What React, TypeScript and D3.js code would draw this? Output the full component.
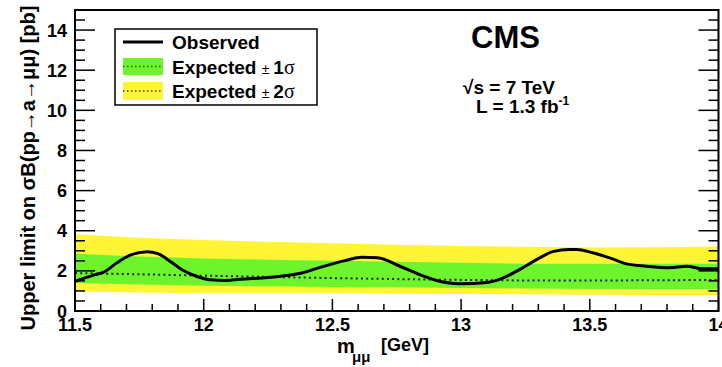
import React from 'react';
import * as d3 from 'd3';

// Observed limit (pb) vs mass (GeV)
const obsMass = [11.5, 11.578, 11.609, 11.663, 11.714, 11.78, 11.822, 11.869, 11.919, 11.974, 12.024, 12.09, 12.14, 12.249, 12.381, 12.459, 12.548, 12.614, 12.676, 12.762, 12.839, 12.905, 12.995, 13.1, 13.162, 13.227, 13.293, 13.356, 13.422, 13.449, 13.511, 13.577, 13.643, 13.72, 13.81, 13.876, 13.938, 14.0];
const observed = [1.47, 1.81, 1.92, 2.4, 2.78, 2.95, 2.86, 2.48, 2.03, 1.72, 1.56, 1.52, 1.58, 1.67, 1.89, 2.2, 2.51, 2.68, 2.65, 2.23, 1.81, 1.52, 1.36, 1.42, 1.64, 2.06, 2.56, 2.96, 3.07, 3.07, 2.9, 2.65, 2.35, 2.23, 2.15, 2.23, 2.1, 2.1];

// Expected limit and bands
const bandMass = [11.5, 11.75, 12.0, 12.25, 12.5, 12.75, 13.0, 13.25, 13.5, 13.75, 14.0];
const exp2Up = [3.82, 3.65, 3.54, 3.45, 3.38, 3.3, 3.24, 3.2, 3.16, 3.18, 3.22];
const exp1Up = [2.85, 2.72, 2.62, 2.56, 2.5, 2.45, 2.4, 2.36, 2.35, 2.35, 2.35];
const expected = [1.89, 1.83, 1.76, 1.7, 1.64, 1.59, 1.55, 1.52, 1.52, 1.53, 1.55];
const exp1Dn = [1.39, 1.32, 1.26, 1.23, 1.2, 1.18, 1.15, 1.12, 1.1, 1.1, 1.1];
const exp2Dn = [0.97, 0.92, 0.89, 0.89, 0.88, 0.86, 0.85, 0.83, 0.81, 0.8, 0.8];

const xTickLabels = ['11.5', '12', '12.5', '13', '13.5', '14'];
const yTickLabels = ['0', '2', '4', '6', '8', '10', '12', '14'];

const W = 722;
const H = 367;
const L = 75, R = 718.5, T = 10, B = 311;
const FONT = '"Liberation Sans", Arial, Helvetica, sans-serif';
const GREEN = '#6ef42c';
const YELLOW = '#fff536';

export default function App() {
  const x = d3.scaleLinear().domain([11.5, 14]).range([L, R]);
  const y = d3.scaleLinear().domain([0, 15]).range([B, T]);

  const band = (lo: number[], hi: number[]) =>
    d3.area<number>()
      .x((_, i) => x(bandMass[i]))
      .y0((_, i) => y(lo[i]))
      .y1((_, i) => y(hi[i]))(bandMass) as string;

  const expLine = d3.line<number>()
    .x((_, i) => x(bandMass[i]))
    .y((d) => y(d))(expected) as string;

  const obsLine = d3.line<number>()
    .x((_, i) => x(obsMass[i]))
    .y((d) => y(d))
    .curve(d3.curveMonotoneX)(observed) as string;

  const xMinor = d3.range(0, 26).map((i) => 11.5 + i * 0.1);
  const yMinor = d3.range(0, 31).map((i) => i * 0.5);

  return (
    <svg width={W} height={H} style={{ position: 'absolute', left: 0, top: 0 }} fontFamily={FONT}>
      <rect x={0} y={0} width={W} height={H} fill="white" />
      <path d={band(exp2Dn, exp2Up)} fill={YELLOW} />
      <path d={band(exp1Dn, exp1Up)} fill={GREEN} />
      <path d={expLine} fill="none" stroke="#222" strokeWidth={2} strokeDasharray="2,3.2" />
      <path d={obsLine} fill="none" stroke="black" strokeWidth={3} strokeLinejoin="round" />

      {/* frame */}
      <rect x={L} y={T} width={R - L} height={B - T} fill="none" stroke="black" strokeWidth={2} />

      {/* x ticks */}
      {xMinor.map((v, i) => {
        const major = i % 5 === 0;
        return <line key={'xt' + i} x1={x(v)} x2={x(v)} y1={B} y2={B - (major ? 12 : 7)} stroke="black" strokeWidth={1.5} />;
      })}
      {xTickLabels.map((t) => (
        <text key={'xl' + t} x={x(+t)} y={331} textAnchor="middle" fontSize={18} fontWeight="bold">{t}</text>
      ))}

      {/* y ticks left and right */}
      {yMinor.map((v, i) => {
        const major = i % 4 === 0;
        const len = major ? 20 : 10;
        return (
          <g key={'yt' + i}>
            <line x1={L} x2={L + len} y1={y(v)} y2={y(v)} stroke="black" strokeWidth={1.5} />
            <line x1={R} x2={R - len} y1={y(v)} y2={y(v)} stroke="black" strokeWidth={1.5} />
          </g>
        );
      })}
      {yTickLabels.map((t) => (
        <text key={'yl' + t} x={67} y={y(+t) + 6.5} textAnchor="end" fontSize={18} fontWeight="bold">{t}</text>
      ))}

      {/* axis titles */}
      <text transform="translate(35,168) rotate(-90)" textAnchor="middle" fontSize={20} fontWeight="bold">
        Upper limit on σB(pp→a→μμ) [pb]
      </text>
      <text fontWeight="bold">
        <tspan x={337} y={353} fontSize={20}>m</tspan>
        <tspan x={352} y={362} fontSize={15}>μμ</tspan>
        <tspan x={381} y={351} fontSize={18}>[GeV]</tspan>
      </text>

      {/* legend */}
      <rect x={115} y={29} width={202} height={76} fill="white" stroke="black" strokeWidth={1.5} />
      <line x1={123} x2={163} y1={42} y2={42} stroke="black" strokeWidth={3} />
      <rect x={123} y={58} width={40} height={17} fill={GREEN} />
      <line x1={123} x2={163} y1={66.5} y2={66.5} stroke="#1a6a10" strokeWidth={1.5} strokeDasharray="1.5,2.5" />
      <rect x={123} y={82} width={40} height={18} fill={YELLOW} />
      <line x1={123} x2={163} y1={91} y2={91} stroke="#333" strokeWidth={1.5} strokeDasharray="1.5,2.5" />
      <text x={172} y={48.5} fontSize={19} fontWeight="bold">Observed</text>
      <text x={172} y={73.5} fontSize={19}>
        <tspan fontWeight="bold">Expected </tspan>
        <tspan fontSize={14}>± </tspan>
        <tspan fontWeight="bold">1</tspan>
        <tspan fontFamily='"Liberation Serif", "Times New Roman", serif' fontSize={20}>σ</tspan>
      </text>
      <text x={172} y={98} fontSize={19}>
        <tspan fontWeight="bold">Expected </tspan>
        <tspan fontSize={14}>± </tspan>
        <tspan fontWeight="bold">2</tspan>
        <tspan fontFamily='"Liberation Serif", "Times New Roman", serif' fontSize={20}>σ</tspan>
      </text>

      {/* CMS labels */}
      <text x={471} y={48} fontSize={31} fontWeight="bold">CMS</text>
      <text x={463} y={94} fontSize={19} fontWeight="bold">√s = 7 TeV</text>
      <text x={476} y={113} fontSize={19} fontWeight="bold">
        L = 1.3 fb<tspan fontSize={12} dy={-8}>-1</tspan>
      </text>
    </svg>
  );
}
